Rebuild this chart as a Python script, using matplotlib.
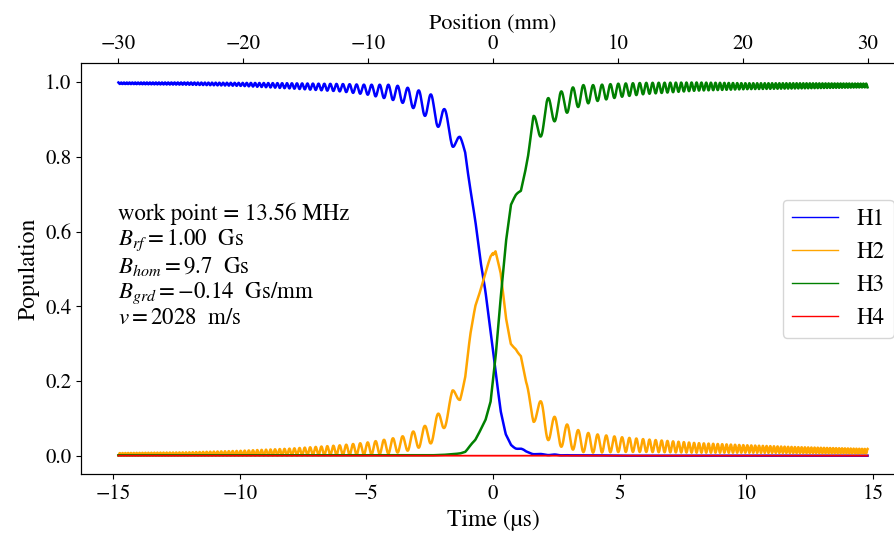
import numpy as np
import matplotlib
matplotlib.use('Agg')
import matplotlib.pyplot as plt

plt.rcParams['font.family'] = ['STIXGeneral', 'DejaVu Serif']
plt.rcParams['mathtext.fontset'] = 'stix'

# velocity in mm/us, time range of the simulation
v = 2.028
t_end = 30 / v

# knots (time in us)
t_knots = [-14.8, -12, -10, -8, -6, -5, -4, -3.5, -3, -2.5, -2, -1.6, -1.3, -1.1,
           -0.9, -0.7, -0.5, -0.3, -0.1, 0.1, 0.3, 0.5, 0.7, 0.9, 1.1, 1.3, 1.6,
           2, 2.5, 3, 3.5, 4, 5, 6, 8, 10, 12, 14.8]

h1_mean = [0.997, 0.996, 0.994, 0.99, 0.985, 0.98, 0.973, 0.965, 0.952, 0.935, 0.905, 0.857, 0.84, 0.81,
           0.72, 0.63, 0.52, 0.44, 0.34, 0.23, 0.12, 0.055, 0.03, 0.022, 0.018, 0.01, 0.005,
           0.003, 0.002, 0.001, 0.001, 0.001, 0.0, 0.0, 0.0, 0.0, 0.0, 0.0]
h1_amp = [0.002, 0.003, 0.004, 0.007, 0.01, 0.013, 0.02, 0.022, 0.027, 0.035, 0.035, 0.03, 0.015, 0.008,
          0.004, 0.003, 0.003, 0.003, 0.003, 0.003, 0.003, 0.003, 0.003, 0.003, 0.003, 0.002, 0.001,
          0.001, 0.001, 0.0, 0.0, 0.0, 0.0, 0.0, 0.0, 0.0, 0.0, 0.0]

h2_mean = [0.004, 0.005, 0.007, 0.01, 0.015, 0.019, 0.026, 0.032, 0.045, 0.058, 0.093, 0.15, 0.16, 0.21,
           0.32, 0.40, 0.445, 0.49, 0.53, 0.55, 0.49, 0.37, 0.30, 0.288, 0.265, 0.19, 0.125,
           0.095, 0.063, 0.05, 0.037, 0.033, 0.03, 0.027, 0.021, 0.018, 0.015, 0.012]
h2_amp = [0.003, 0.004, 0.006, 0.009, 0.013, 0.016, 0.02, 0.021, 0.025, 0.028, 0.033, 0.025, 0.012, 0.005,
          0.003, 0.003, 0.003, 0.003, 0.003, 0.003, 0.003, 0.003, 0.003, 0.003, 0.005, 0.01, 0.035,
          0.045, 0.036, 0.031, 0.027, 0.025, 0.02, 0.017, 0.013, 0.01, 0.008, 0.006]

h3_mean = [0.001, 0.001, 0.001, 0.001, 0.001, 0.001, 0.001, 0.001, 0.001, 0.001, 0.002, 0.004, 0.006, 0.01,
           0.025, 0.042, 0.07, 0.095, 0.14, 0.26, 0.42, 0.57, 0.67, 0.695, 0.71, 0.78, 0.875,
           0.905, 0.935, 0.952, 0.965, 0.97, 0.978, 0.983, 0.988, 0.989, 0.99, 0.991]
h3_amp = [0.0, 0.0, 0.0, 0.0, 0.0, 0.0, 0.0, 0.0, 0.0, 0.0, 0.0, 0.0, 0.0, 0.0,
          0.002, 0.002, 0.002, 0.002, 0.002, 0.002, 0.003, 0.003, 0.003, 0.003, 0.005, 0.01, 0.035,
          0.045, 0.035, 0.031, 0.027, 0.022, 0.018, 0.015, 0.011, 0.008, 0.007, 0.005]

# chirp of the Rabi-like wiggles (1/us), read from peak spacing
chirp = 0.62
f0 = 1.2
t_peak = 1.58

t = np.linspace(-t_end, t_end, 20000)
f = np.sqrt((chirp * t) ** 2 + f0 ** 2)
dt = t[1] - t[0]
phase_abs = np.cumsum(f) * dt
phase_abs = phase_abs - np.interp(0, t, phase_abs)
phase = 2 * np.pi * np.abs(phase_abs)
phase = phase - 2 * np.pi * np.interp(t_peak, t, np.abs(phase_abs))
osc = np.cos(phase)
side = np.where(t < 0, 1.0, -1.0)

h1 = np.interp(t, t_knots, h1_mean) - np.interp(t, t_knots, h1_amp) * osc
h2 = np.interp(t, t_knots, h2_mean) + np.interp(t, t_knots, h2_amp) * osc * side
h3 = np.interp(t, t_knots, h3_mean) + np.interp(t, t_knots, h3_amp) * osc
h4 = np.zeros_like(t)

fig = plt.figure(figsize=(8.94, 5.33), dpi=100)
ax = fig.add_axes([0.0906, 0.110, 0.9217, 0.771])

ax.plot(t, h1, color='blue', lw=1.8, label='H1')
ax.plot(t, h2, color='orange', lw=1.8, label='H2')
ax.plot(t, h3, color='green', lw=1.8, label='H3')
ax.plot(t, h4, color='red', lw=1.3, label='H4')

ax.set_xlim(-t_end * 1.1, t_end * 1.1)
ax.set_ylim(-0.05, 1.05)
ax.set_xlabel('Time (µs)', fontsize=17)
ax.set_ylabel('Population', fontsize=17)
ax.tick_params(labelsize=15)

ax.text(0.045, 0.66, 'work point = 13.56 MHz\n'
        r'$B_{rf}=1.00$  Gs' '\n'
        r'$B_{hom}=9.7$  Gs' '\n'
        r'$B_{grd}=-0.14$  Gs/mm' '\n'
        r'$v=2028$  m/s',
        transform=ax.transAxes, fontsize=16.5, va='top', ha='left', linespacing=1.12)

leg = ax.legend(loc='center right', fontsize=16.5)
for l in leg.get_lines():
    l.set_linewidth(1.0)

ax2 = ax.twiny()
ax2.set_xlim(-30 * 1.1, 30 * 1.1)
ax2.set_xlabel('Position (mm)', fontsize=16)
ax2.tick_params(labelsize=15)

fig.savefig('out.png', dpi=100)
